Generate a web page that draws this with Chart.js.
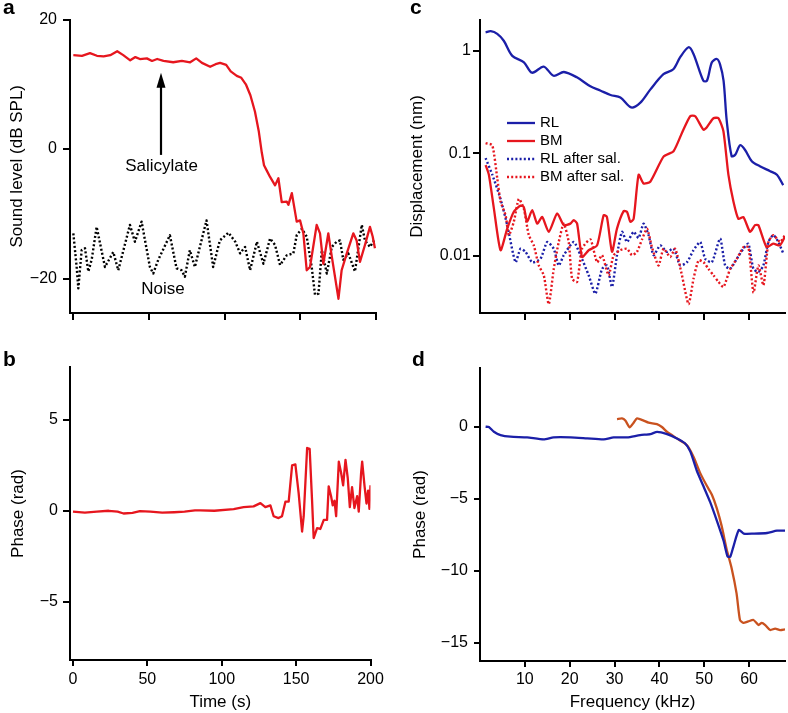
<!DOCTYPE html>
<html><head><meta charset="utf-8">
<script src="https://cdn.jsdelivr.net/npm/chart.js@4.4.0/dist/chart.umd.min.js"></script>
<style>
html,body{margin:0;padding:0;background:#fff;width:788px;height:713px;overflow:hidden;position:relative;}
canvas{position:absolute;}
.lbl{position:absolute;font:bold 21px "Liberation Sans",Arial,sans-serif;line-height:21px;color:#000;}
</style></head><body>
<canvas id="ca" width="394" height="340" style="left:0;top:0"></canvas>
<canvas id="cb" width="394" height="373" style="left:0;top:340px"></canvas>
<canvas id="cc" width="394" height="340" style="left:394px;top:0"></canvas>
<canvas id="cd" width="394" height="373" style="left:394px;top:340px"></canvas>
<div class="lbl" style="left:3px;top:-4px">a</div>
<div class="lbl" style="left:3px;top:348px">b</div>
<div class="lbl" style="left:410px;top:-4px">c</div>
<div class="lbl" style="left:412px;top:348px">d</div>
<script>
// ---------- Panel a: sound level vs time ----------
const soundTime = [0,5.7,11,15.6,20,24.4,29,33,37.6,41,44,48.6,52,55.4,59.6,66,71.7,77.2,81.2,85,90.4,94,97,101,104,108,111,114,117,120,122.5,124.5,126,128,130,133.3,135.5,137.7,141,142.1,144.4,147.6,149.8,152,154.2,156.4,160.8,163,165.2,168.5,170.8,175.2,177.3,180.7,185,187.2,189.4,192.7,196,197.8,199.3];
const soundLevel = [14.5,14.4,14.8,14.4,14.3,14.5,15.1,14.5,13.7,14.2,13.9,14.0,13.6,13.9,13.6,13.4,13.6,13.4,14.0,13.3,12.7,13.1,13.3,13.0,12.0,11.3,11.0,10.0,8.3,5.8,2.8,-0.5,-2.5,-3.4,-4.3,-5.6,-4.5,-8.2,-8.1,-8.6,-6.8,-11.2,-11,-13,-18.7,-18.2,-11.7,-13,-17.7,-13,-16.6,-23.1,-18.7,-16.1,-13,-14.1,-17.4,-14.8,-12,-13.5,-15.3];
const noiseTime = [0,2.2,3.3,5.5,7.7,9.9,12.1,15.4,20.9,26.4,29.7,37.4,40.7,45.1,50.6,52.8,56.1,63.8,68.2,71.5,73.7,77,80.3,88,92.4,96.8,102.5,107,110.2,113.5,116.8,121.3,125.6,130,133.3,136.6,141,145.4,147.6,151,154.2,157.5,159.7,162,164.2,167.5,170.8,174,176.2,178.4,181.7,186.1,190.6,192.7,196,198.7];
const noiseLevel = [-13,-18.2,-21.5,-15.6,-15.3,-18.9,-17.1,-12,-18.2,-15.9,-18.7,-11.7,-14.3,-11.2,-18.2,-19.2,-17.1,-13.3,-18.4,-18.7,-19.7,-15.6,-18.2,-11,-18.2,-14.1,-12.9,-14.3,-16.1,-15.1,-18.7,-14.3,-17.7,-13.8,-14.8,-17.9,-16.4,-16.1,-13.3,-12.3,-13.5,-18.2,-22.5,-22.3,-15.6,-19.2,-15.1,-14.3,-14.1,-17.1,-16.1,-18.9,-11.7,-14.1,-15.1,-14.1];

// ---------- Panel b: phase vs time ----------
const phaseTime = [0,8,16,24,30,34,40,45,52,60,68,75,82,85.5,95,108,114.7,121.4,126,129.3,132.7,134.9,138.2,140.5,142.8,145,147.3,149.5,151.7,154,155.1,157.4,159.1,160.7,161.8,164.1,166.3,168.6,170.8,171.9,173.5,174.6,175.8,176.9,178.7,180.2,181.6,183.2,184.7,186.1,187.6,189.2,191,192.1,193.7,194.4,196,197.3,198.4,199.3,200];
const phaseValue = [-0.05,-0.1,-0.05,0,-0.05,-0.15,-0.12,-0.02,-0.05,-0.1,-0.08,-0.05,0.02,0.02,0.0,0.09,0.2,0.24,0.42,0.2,0.3,-0.3,-0.4,-0.3,0.5,0.5,2.5,2.55,0.97,-1.14,-0.3,3.45,3.4,0.6,-1.5,-0.95,-1.0,-0.5,-0.5,1.34,0.8,0.3,0.55,-0.3,2.7,2.1,1.4,2.8,1.8,0.2,1.3,0.15,0.8,-0.05,2.1,2.7,1.35,0.4,1.1,0.1,1.4];

// ---------- Panel c: displacement vs frequency ----------
const rlFreq = [1.25,2.4,3.85,5.3,7.2,9.8,11.6,14.2,16.4,18.7,21.6,24.6,26.8,29.1,31.3,33.7,35.7,38.0,40.9,43.1,44.6,46.5,47.6,49.8,50.6,51.7,52.8,53.5,54.3,55.0,56.1,56.9,58.0,59.1,60.6,62.4,64.7,66.2,67.6];
const rlDisp = [1.51,1.55,1.46,1.25,0.89,0.77,0.61,0.70,0.57,0.62,0.55,0.45,0.41,0.37,0.35,0.28,0.31,0.42,0.59,0.66,0.86,1.08,0.93,0.51,0.51,0.77,0.83,0.74,0.51,0.21,0.094,0.097,0.12,0.108,0.084,0.075,0.067,0.062,0.049];
const bmFreq = [1.25,1.98,3.1,4.58,6.07,7.54,9.03,9.77,10.5,11.64,12.75,13.87,15.33,17.2,18.67,20.16,20.9,21.65,22.76,24.23,26.1,27.57,28.3,29.43,30.54,32.02,32.78,33.51,34.25,35.36,36.47,37.96,40.92,43.15,45.02,46.86,47.98,49.82,50.58,52.05,53.16,54.27,55.38,56.5,57.61,58.72,60.21,61.32,62.06,63.9,65.37,66.86,67.97];
const bmDisp = [0.077,0.062,0.029,0.0114,0.0185,0.027,0.031,0.030,0.0216,0.028,0.0207,0.024,0.0172,0.026,0.020,0.0207,0.0224,0.0207,0.0098,0.0114,0.0127,0.025,0.024,0.011,0.0185,0.0274,0.027,0.0216,0.023,0.062,0.051,0.053,0.093,0.105,0.158,0.23,0.23,0.17,0.18,0.22,0.22,0.164,0.062,0.034,0.023,0.024,0.0172,0.020,0.020,0.0122,0.0132,0.0127,0.0154];
const rlSalFreq = [1.25,2.74,4.58,6.07,7.92,9.03,10.15,11.64,13.48,14.98,16.44,17.56,18.67,20.9,22.39,24.23,25.72,27.21,28.33,29.43,30.54,31.66,32.78,34.25,35.36,36.47,37.58,38.7,40.18,41.67,43.15,44.64,46.13,47.6,49.1,50.21,51.69,53.54,54.65,55.76,57.25,58.72,59.84,60.95,62.06,63.18,64.29,65.4,66.51,67.62];
const rlSalDisp = [0.09,0.062,0.036,0.020,0.0087,0.0118,0.0110,0.0087,0.0094,0.0137,0.0118,0.0081,0.0102,0.0137,0.0102,0.0065,0.0043,0.0075,0.0081,0.005,0.0102,0.0172,0.0137,0.0172,0.0150,0.0207,0.0160,0.0102,0.0127,0.0110,0.0118,0.0081,0.0087,0.0114,0.0137,0.0094,0.0087,0.0148,0.0081,0.0075,0.0094,0.0118,0.0132,0.0075,0.0070,0.0081,0.0137,0.0160,0.0137,0.0106];
const bmSalFreq = [1.25,2.74,3.85,4.58,5.7,6.43,7.54,8.66,9.77,10.88,11.99,13.1,14.22,15.33,16.44,17.56,18.67,19.78,20.54,21.65,22.76,24.61,26.1,27.21,28.68,29.8,31.29,32.78,33.89,35.0,36.12,37.23,38.34,39.81,40.92,42.41,43.53,45.02,46.5,47.6,48.73,49.84,50.95,52.06,53.18,54.29,55.78,57.27,58.74,59.85,60.97,62.08,63.2,64.31,65.42,66.91,68.0];
const bmSalDisp = [0.126,0.12,0.057,0.034,0.025,0.016,0.0216,0.036,0.029,0.016,0.0127,0.0081,0.0065,0.0034,0.0075,0.0137,0.0207,0.0137,0.006,0.0056,0.0118,0.0145,0.0087,0.0102,0.0065,0.0102,0.0114,0.0118,0.0102,0.0110,0.0145,0.0185,0.0122,0.0081,0.0118,0.0098,0.0118,0.0065,0.0034,0.006,0.0091,0.0087,0.0075,0.0065,0.0056,0.005,0.0075,0.0094,0.0122,0.0122,0.0044,0.0081,0.0052,0.0137,0.016,0.0137,0.016];

// ---------- Panel d: phase vs frequency ----------
const rlPhaseFreq = [1.25,1.98,3.1,4.58,6.8,10.5,14.2,16.4,20.2,23.9,27.6,29.8,32.8,35.7,38.0,39.5,41.7,43.9,45.7,46.9,48.3,49.8,51.3,52.8,54.3,55.2,55.8,56.5,57.7,58.8,61.0,64.0,66.2,68];
const rlPhase = [0.02,0,-0.33,-0.56,-0.67,-0.72,-0.86,-0.72,-0.72,-0.79,-0.86,-0.72,-0.72,-0.56,-0.49,-0.33,-0.49,-0.79,-1.13,-1.71,-3.0,-4.1,-5.2,-6.5,-7.9,-9.0,-9.0,-8.3,-7.15,-7.4,-7.4,-7.36,-7.2,-7.2];
const bmPhaseFreq = [30.55,31.66,32.4,33.36,34.25,35.0,36.47,37.58,39.45,40.56,41.67,43.9,46.1,47.6,49.1,50.6,51.7,52.8,53.9,55.0,56.1,57.2,57.96,58.7,59.8,60.97,62.1,62.8,63.6,64.7,65.8,66.9,68.0];
const bmPhase = [0.55,0.6,0.45,-0.02,0.3,0.6,0.45,0.3,0.2,0.0,-0.33,-0.79,-1.25,-2.06,-3.2,-4.1,-4.7,-5.65,-6.9,-8.5,-9.8,-11.55,-13.4,-13.6,-13.5,-13.4,-13.75,-13.6,-13.75,-14.1,-14.0,-14.1,-14.05];

// ---------- Tick values & labels ----------
const timeTicks = [0,50,100,150,200];
const soundTicks = [-20,0,20];
const phaseTimeTicks = [-5,0,5];
const freqTicks = [10,20,30,40,50,60];
const dispTicks = [0.01,0.1,1];
const phaseFreqTicks = [-15,-10,-5,0];
const legendLabels = ['RL','BM','RL after sal.','BM after sal.'];

const FONT = '"Liberation Sans", Arial, Helvetica, sans-serif';
Chart.defaults.font.family = FONT;
Chart.defaults.font.size = 16;
Chart.defaults.color = '#000';

const RED = '#e6161e', BLUE = '#1b1fa8', ORANGE = '#c9521f', BLACK = '#000';
const TITLE_SIZE = 17;
const pts = (xs, ys) => xs.map((x, i) => ({x: x, y: ys[i]}));
const fmt = v => String(v).replace('-', '\u2212');

function line(label, xs, ys, color, dashed, tension, order) {
  return {label, data: pts(xs, ys), borderColor: color, backgroundColor: color,
    borderWidth: dashed ? 2.4 : 2.3, borderDash: dashed ? [2, 2.2] : [],
    pointRadius: 0, fill: false, tension: tension || 0, order: order || 0,
    borderJoinStyle: 'round'};
}

function xScale(o) {
  return {
    type: 'linear', position: 'bottom', min: o.min, max: o.max,
    afterBuildTicks: s => { s.ticks = o.ticks.map(v => ({value: v})); },
    afterFit: s => { s.height = o.height; },
    grid: {display: true, drawOnChartArea: false, drawTicks: true, tickLength: o.tickLength, color: BLACK, lineWidth: 2},
    border: {display: true, color: BLACK, width: 2},
    ticks: {display: !!o.labels, padding: o.pad || 4, color: BLACK, font: {size: 16}, maxRotation: 0, autoSkip: false, callback: v => fmt(v)},
    title: o.title ? {display: true, text: o.title, color: BLACK, font: {size: TITLE_SIZE}, padding: {top: 0, bottom: o.titlePad}} : {display: false}
  };
}
function yScale(o) {
  return {
    type: o.log ? 'logarithmic' : 'linear', position: 'left', min: o.min, max: o.max,
    afterBuildTicks: s => { s.ticks = o.ticks.map(v => ({value: v})); },
    afterFit: s => { s.width = o.width; },
    grid: {display: true, drawOnChartArea: false, drawTicks: true, tickLength: o.tickLength, color: BLACK, lineWidth: 2},
    border: {display: true, color: BLACK, width: 2},
    ticks: {display: true, padding: o.pad, color: BLACK, font: {size: 16}, autoSkip: false, callback: v => fmt(v)},
    title: {display: true, text: o.title, color: BLACK, font: {size: TITLE_SIZE}, padding: {top: o.titlePad, bottom: 0}}
  };
}
function baseOptions(padding, scales) {
  return {responsive: false, animation: false, devicePixelRatio: 1, events: [],
    layout: {padding}, scales,
    plugins: {legend: {display: false}, tooltip: {enabled: false}}};
}

// annotation plugin for panel a
const annotPlugin = {
  id: 'annotA',
  afterDatasetsDraw(chart) {
    const {ctx, scales: {x, y}} = chart;
    const ax = Math.round(x.getPixelForValue(57.9));
    const tip = y.getPixelForValue(11.8), tail = y.getPixelForValue(-0.9);
    ctx.save();
    ctx.strokeStyle = BLACK; ctx.fillStyle = BLACK; ctx.lineWidth = 2.2;
    ctx.beginPath(); ctx.moveTo(ax, tail); ctx.lineTo(ax, tip + 10); ctx.stroke();
    ctx.beginPath(); ctx.moveTo(ax, tip); ctx.lineTo(ax - 4.5, tip + 15); ctx.lineTo(ax + 4.5, tip + 15); ctx.closePath(); ctx.fill();
    ctx.font = TITLE_SIZE + 'px ' + FONT; ctx.textAlign = 'center'; ctx.textBaseline = 'middle';
    ctx.fillText('Salicylate', x.getPixelForValue(58.3), y.getPixelForValue(-2.7));
    ctx.fillText('Noise', x.getPixelForValue(59.2), y.getPixelForValue(-21.6));
    ctx.restore();
  }
};

// legend plugin for panel c
const legendPlugin = {
  id: 'legendC',
  afterDatasetsDraw(chart) {
    const {ctx, chartArea} = chart;
    const x0 = chartArea.left + 27, x1 = x0 + 28, tx = x1 + 5;
    let y = chartArea.top + 103;
    chart.data.datasets.forEach(ds => {
      ctx.save();
      ctx.strokeStyle = ds.borderColor; ctx.lineWidth = ds.borderWidth;
      ctx.setLineDash(ds.borderDash || []);
      ctx.beginPath(); ctx.moveTo(x0, y); ctx.lineTo(x1, y); ctx.stroke();
      ctx.setLineDash([]);
      ctx.fillStyle = BLACK; ctx.font = '15px ' + FONT;
      ctx.textBaseline = 'middle'; ctx.textAlign = 'left';
      ctx.fillText(ds.label, tx, y);
      ctx.restore();
      y += 18;
    });
  }
};

// Panel a
new Chart(document.getElementById('ca'), {
  type: 'line',
  data: {datasets: [
    line('Sound level', soundTime, soundLevel, RED, false, 0, 0),
    line('Noise', noiseTime, noiseLevel, BLACK, true, 0, 1)
  ]},
  options: baseOptions({left: 0, top: 19.5, right: 18, bottom: 0}, {
    x: xScale({min: -2.2, max: 200, ticks: timeTicks, labels: false, height: 27, tickLength: 7}),
    y: yScale({min: -25.3, max: 20, ticks: soundTicks, width: 70, tickLength: 7, pad: 6, title: 'Sound level (dB SPL)', titlePad: 7.4})
  }),
  plugins: [annotPlugin]
});

// Panel b
new Chart(document.getElementById('cb'), {
  type: 'line',
  data: {datasets: [line('Phase', phaseTime, phaseValue, RED, false, 0, 0)]},
  options: baseOptions({left: 0, top: 27, right: 23.5, bottom: 0}, {
    x: xScale({min: -2, max: 200, ticks: timeTicks, labels: true, height: 53, tickLength: 6, pad: 4, title: 'Time (s)', titlePad: 0.4}),
    y: yScale({min: -8.2, max: 7.9, ticks: phaseTimeTicks, width: 70, tickLength: 7, pad: 5, title: 'Phase (rad)', titlePad: 7.9})
  })
});

// Panel c
new Chart(document.getElementById('cc'), {
  type: 'line',
  data: {datasets: [
    line(legendLabels[0], rlFreq, rlDisp, BLUE, false, 0.3, 0),
    line(legendLabels[1], bmFreq, bmDisp, RED, false, 0.2, 1),
    line(legendLabels[2], rlSalFreq, rlSalDisp, BLUE, true, 0.2, 3),
    line(legendLabels[3], bmSalFreq, bmSalDisp, RED, true, 0.2, 2)
  ]},
  options: baseOptions({left: 0, top: 20, right: 3, bottom: 0}, {
    x: xScale({min: 0, max: 68, ticks: freqTicks, labels: false, height: 27, tickLength: 7}),
    y: yScale({log: true, min: 0.00279, max: 1.99, ticks: dispTicks, width: 86, tickLength: 7, pad: 2, title: 'Displacement (nm)', titlePad: 13.4})
  }),
  plugins: [legendPlugin]
});

// Panel d
new Chart(document.getElementById('cd'), {
  type: 'line',
  data: {datasets: [
    line('RL phase', rlPhaseFreq, rlPhase, BLUE, false, 0.2, 0),
    line('BM phase', bmPhaseFreq, bmPhase, ORANGE, false, 0.2, 1)
  ]},
  options: baseOptions({left: 0, top: 28, right: 3, bottom: 0}, {
    x: xScale({min: 0, max: 68, ticks: freqTicks, labels: true, height: 52, tickLength: 6, pad: 3, title: 'Frequency (kHz)', titlePad: 0}),
    y: yScale({min: -16.25, max: 4.1, ticks: phaseFreqTicks, width: 86, tickLength: 6, pad: 6, title: 'Phase (rad)', titlePad: 15.8})
  })
});
</script>
</body></html>
